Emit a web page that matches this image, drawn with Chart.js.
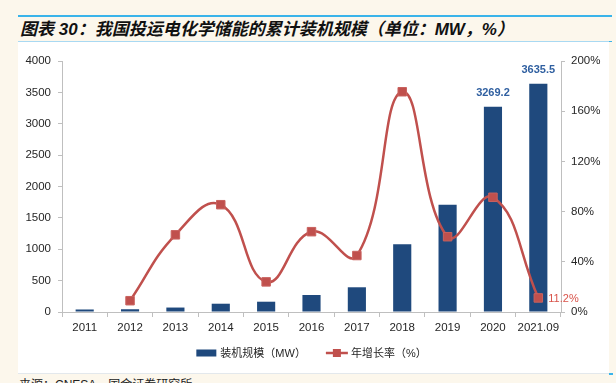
<!DOCTYPE html>
<html>
<head>
<meta charset="utf-8">
<script src="https://cdn.jsdelivr.net/npm/chart.js@4/dist/chart.umd.min.js"></script>
<style>
  html, body { margin: 0; padding: 0; }
  body { width: 616px; height: 383px; background: #fcf7ec; position: relative; overflow: hidden;
         font-family: "Liberation Sans", "Noto Sans CJK SC", sans-serif; }
  #topline { position: absolute; left: 18px; top: 15px; width: 594px; height: 2px; background: #3ab4ea; }
  #title { position: absolute; left: 20px; top: 17px; height: 24px; line-height: 25px; font-size: 17px;
           font-weight: bold; font-style: italic; color: #111; white-space: nowrap;
           font-family: "Liberation Sans", "Noto Sans CJK SC", sans-serif; }
  #subline { position: absolute; left: 18px; top: 41px; width: 591px; height: 1px; background: #a9d9f2; }
  #subtick { position: absolute; left: 609px; top: 41px; width: 3px; height: 1px; background: #3ab4ea; }
  #box { position: absolute; left: 18px; top: 42px; width: 591px; height: 331px; background: #ffffff; }
  #botline { position: absolute; left: 18px; top: 373px; width: 591px; height: 1px; background: #e3e8ec; }
  #bottick { position: absolute; left: 609px; top: 373px; width: 4px; height: 2px; background: #3ab4ea; }
  #source { position: absolute; left: 19px; top: 375px; font-size: 12px; color: #222; white-space: nowrap;
            font-family: "Liberation Sans", "Noto Sans CJK SC", sans-serif; }
  canvas { position: absolute; left: 0; top: 0; }
</style>
</head>
<body>
<div id="topline"></div>
<div id="title">图表 30：我国投运电化学储能的累计装机规模（单位：MW，%）</div>
<div id="subline"></div>
<div id="subtick"></div>
<div id="box"><canvas id="c" width="591" height="331" style="width:591px;height:331px"></canvas></div>
<div id="botline"></div>
<div id="bottick"></div>
<div id="source">来源：CNESA，国金证券研究所</div>
<script>
// ---- data ----
const categories = ["2011","2012","2013","2014","2015","2016","2017","2018","2019","2020","2021.09"];
const capacityMW = [40, 44, 71, 132, 164, 271, 394, 1079, 1710, 3269.2, 3635.5];
const growthPct  = [null, 9, 61.5, 85.5, 24, 64, 45, 175.5, 60, 91.4, 11.2];
const leftTicks  = [0, 500, 1000, 1500, 2000, 2500, 3000, 3500, 4000];
const rightTicks = [0, 40, 80, 120, 160, 200];
const barLabelIdx = [9, 10];
const lineLabelIdx = [10];
const seriesNames = ["装机规模（MW）", "年增长率（%）"];

const BLUE = "#1f497d";
const RED = "#c0504d";
const AXIS = "#bfbfbf";
const TXT = "#262626";
const FONT = '"Liberation Sans", "Noto Sans CJK SC", sans-serif';

const labelPlugin = {
  id: "labels",
  afterDatasetsDraw(chart) {
    const ctx = chart.ctx;
    ctx.save();
    const barMeta = chart.getDatasetMeta(1);
    ctx.font = "bold 11px " + FONT;
    ctx.fillStyle = "#2f5fa0";
    ctx.textAlign = "center";
    ctx.textBaseline = "middle";
    barLabelIdx.forEach(i => {
      const el = barMeta.data[i];
      ctx.fillText(String(capacityMW[i]), el.x, el.y - 14);
    });
    const lineMeta = chart.getDatasetMeta(0);
    ctx.font = "11px " + FONT;
    ctx.fillStyle = "#d9534a";
    ctx.textAlign = "left";
    lineLabelIdx.forEach(i => {
      const el = lineMeta.data[i];
      ctx.fillText(growthPct[i].toFixed(1) + "%", el.x + 10, el.y + 1);
    });
    ctx.restore();
  },
  afterDraw(chart) {
    // legend
    const ctx = chart.ctx;
    ctx.save();
    ctx.font = "11px " + FONT;
    const w1 = ctx.measureText(seriesNames[0]).width;
    const w2 = ctx.measureText(seriesNames[1]).width;
    const total = 20 + 4 + w1 + 20 + 22 + 3 + w2;
    const cx = (chart.chartArea.left + chart.chartArea.right) / 2;
    let x = cx - total / 2;
    const y = 311;
    ctx.fillStyle = BLUE;
    ctx.fillRect(x, y - 3.5, 20, 7);
    x += 24;
    ctx.fillStyle = TXT;
    ctx.textBaseline = "middle";
    ctx.textAlign = "left";
    ctx.fillText(seriesNames[0], x, y + 0.5);
    x += w1 + 20;
    ctx.strokeStyle = RED;
    ctx.lineWidth = 2.5;
    ctx.beginPath(); ctx.moveTo(x, y); ctx.lineTo(x + 22, y); ctx.stroke();
    ctx.fillStyle = RED;
    ctx.fillRect(x + 11 - 4, y - 4, 8, 8);
    x += 25;
    ctx.fillStyle = TXT;
    ctx.fillText(seriesNames[1], x, y + 0.5);
    ctx.restore();
  }
};

new Chart(document.getElementById("c"), {
  data: {
    labels: categories,
    datasets: [
      {
        type: "line",
        label: seriesNames[1],
        data: growthPct,
        yAxisID: "y1",
        borderColor: RED,
        backgroundColor: RED,
        borderWidth: 2.5,
        tension: 0.45,
        pointStyle: "rect",
        pointRadius: 6,
        pointBorderWidth: 1,
        pointBorderColor: "#c9625f",
        pointBackgroundColor: RED,
        spanGaps: false,
        clip: false,
        order: 0
      },
      {
        type: "bar",
        label: seriesNames[0],
        data: capacityMW,
        yAxisID: "y",
        backgroundColor: BLUE,
        borderWidth: 0,
        categoryPercentage: 1.0,
        barPercentage: 0.4,
        order: 1
      }
    ]
  },
  options: {
    responsive: false,
    devicePixelRatio: 1,
    animation: false,
    layout: { padding: { top: 19, left: 0, right: 0, bottom: 0 } },
    plugins: { legend: { display: false }, tooltip: { enabled: false } },
    scales: {
      x: {
        type: "category",
        offset: true,
        grid: { display: true, drawOnChartArea: false, drawTicks: true, tickLength: 5, color: AXIS, offset: true },
        border: { display: true, color: AXIS, width: 1 },
        ticks: { color: TXT, font: { size: 11.5, family: FONT }, padding: 4, maxRotation: 0, autoSkip: false },
        afterFit(s) { s.height = 61; }
      },
      y: {
        position: "left",
        min: leftTicks[0],
        max: leftTicks[leftTicks.length - 1],
        afterBuildTicks(s) { s.ticks = leftTicks.map(v => ({ value: v })); },
        grid: { display: true, drawOnChartArea: false, drawTicks: true, tickLength: 4, color: AXIS },
        border: { display: true, color: AXIS, width: 1 },
        ticks: { color: TXT, font: { size: 11.5, family: FONT }, padding: 7, callback: v => String(v) },
        afterFit(s) { s.width = 44; }
      },
      y1: {
        position: "right",
        min: rightTicks[0],
        max: rightTicks[rightTicks.length - 1],
        afterBuildTicks(s) { s.ticks = rightTicks.map(v => ({ value: v })); },
        grid: { display: true, drawOnChartArea: false, drawTicks: true, tickLength: 4, color: AXIS },
        border: { display: true, color: AXIS, width: 1 },
        ticks: { color: TXT, font: { size: 11.5, family: FONT }, padding: 6, callback: v => v + "%" },
        afterFit(s) { s.width = 48; }
      }
    }
  },
  plugins: [labelPlugin]
});
</script>
</body>
</html>
